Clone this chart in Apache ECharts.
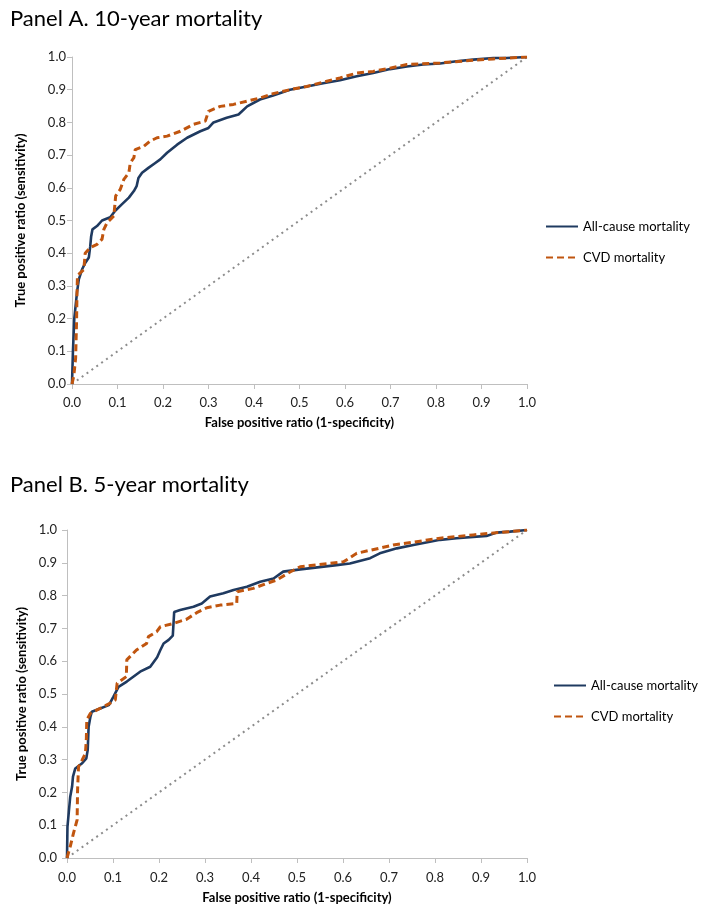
<!DOCTYPE html>
<html>
<head>
<meta charset="utf-8">
<script src="https://cdn.jsdelivr.net/npm/echarts@6/dist/echarts.min.js"></script>
<style>html,body{margin:0;padding:0;background:#fff}#c{width:704px;height:913px}</style>
</head>
<body>
<div id="c"></div>
<script>
// ---- data ----
const tickLabels = ['0.0','0.1','0.2','0.3','0.4','0.5','0.6','0.7','0.8','0.9','1.0'];
const seriesNames = ['All-cause mortality', 'CVD mortality'];

// Panel A (10-year)
const A_all_x = [0,0.002,0.005,0.011,0.015,0.022,0.029,0.037,0.040,0.042,0.045,0.055,0.066,0.084,0.095,0.110,0.125,0.136,0.142,0.146,0.154,0.168,0.183,0.194,0.209,0.231,0.253,0.282,0.300,0.311,0.340,0.366,0.385,0.413,0.442,0.479,0.516,0.552,0.589,0.626,0.662,0.699,0.736,0.772,0.809,0.845,0.882,0.926,0.955,1.0];
const A_all_y = [0,0.097,0.20,0.28,0.32,0.35,0.37,0.387,0.42,0.45,0.473,0.483,0.50,0.51,0.53,0.55,0.57,0.59,0.605,0.63,0.646,0.661,0.676,0.687,0.707,0.732,0.753,0.773,0.783,0.80,0.814,0.824,0.849,0.87,0.882,0.90,0.91,0.92,0.929,0.941,0.951,0.963,0.971,0.977,0.98,0.987,0.992,0.997,0.997,1.0];
const A_cvd_x = [0,0.004,0.008,0.010,0.011,0.012,0.018,0.026,0.029,0.040,0.055,0.066,0.070,0.077,0.092,0.096,0.106,0.114,0.125,0.128,0.136,0.139,0.158,0.172,0.187,0.209,0.238,0.267,0.293,0.300,0.326,0.355,0.385,0.414,0.442,0.479,0.516,0.560,0.589,0.626,0.662,0.699,0.736,0.809,0.882,0.926,0.962,1.0];
const A_cvd_y = [0,0.025,0.08,0.19,0.28,0.33,0.34,0.35,0.40,0.417,0.427,0.443,0.473,0.493,0.514,0.575,0.595,0.626,0.646,0.676,0.692,0.717,0.727,0.743,0.753,0.758,0.773,0.794,0.804,0.834,0.849,0.855,0.865,0.875,0.888,0.90,0.91,0.926,0.936,0.951,0.956,0.966,0.977,0.982,0.99,0.994,0.997,1.0];

// Panel B (5-year)
const B_all_x = [0,0.001,0.004,0.007,0.011,0.013,0.018,0.033,0.042,0.045,0.047,0.051,0.054,0.072,0.091,0.101,0.112,0.130,0.159,0.181,0.196,0.203,0.210,0.221,0.230,0.233,0.237,0.246,0.275,0.293,0.311,0.340,0.362,0.391,0.420,0.449,0.470,0.507,0.586,0.615,0.659,0.680,0.717,0.753,0.811,0.847,0.912,0.934,0.963,1.0];
const B_all_y = [0,0.095,0.141,0.187,0.217,0.248,0.273,0.289,0.304,0.329,0.40,0.431,0.446,0.456,0.466,0.492,0.522,0.538,0.568,0.583,0.612,0.634,0.654,0.665,0.678,0.75,0.752,0.756,0.766,0.776,0.797,0.807,0.817,0.827,0.842,0.852,0.873,0.88,0.893,0.898,0.914,0.929,0.944,0.954,0.97,0.975,0.982,0.992,0.995,1.0];
const B_cvd_x = [0,0.007,0.014,0.022,0.023,0.025,0.033,0.040,0.042,0.043,0.051,0.072,0.094,0.105,0.109,0.129,0.130,0.151,0.173,0.177,0.195,0.203,0.231,0.260,0.282,0.304,0.333,0.369,0.370,0.405,0.434,0.455,0.485,0.507,0.601,0.630,0.709,0.811,0.883,0.920,0.963,1.0];
const B_cvd_y = [0,0.035,0.075,0.116,0.207,0.278,0.299,0.319,0.36,0.421,0.441,0.456,0.472,0.482,0.533,0.553,0.604,0.634,0.654,0.675,0.69,0.705,0.715,0.728,0.748,0.763,0.771,0.776,0.812,0.822,0.837,0.847,0.872,0.888,0.903,0.929,0.954,0.975,0.985,0.99,0.995,1.0];

// reference line (chance)
const diag_x = [0, 1];
const diag_y = [0, 1];

// ---- styling ----
const FONT = 'Lato';
const BLUE = '#1F3A60';
const ORANGE = '#C0550F';
const GREY = '#8C8C8C';
const zip = (xs, ys) => xs.map((x, i) => [x, ys[i]]);

function mkX(idx, nameGap, labelMargin) {
  return {
    type: 'value', gridIndex: idx, min: 0, max: 1, interval: 0.1,
    name: 'False positive ratio (1-specificity)', nameLocation: 'middle', nameGap: nameGap,
    nameTextStyle: { fontFamily: FONT, fontWeight: 'bold', fontSize: 13, color: '#000' },
    axisLine: { lineStyle: { color: '#BFBFBF', width: 1 } },
    axisTick: { show: true, length: 5, lineStyle: { color: '#BFBFBF' } },
    axisLabel: { fontFamily: FONT, fontSize: 13, color: '#222', margin: labelMargin,
      formatter: v => tickLabels[Math.round(v * 10)] },
    splitLine: { show: false }
  };
}
function mkY(idx, nameGap, labelMargin) {
  return {
    type: 'value', gridIndex: idx, min: 0, max: 1, interval: 0.1,
    name: 'True positive ratio (sensitivity)', nameLocation: 'middle', nameGap: nameGap,
    nameTextStyle: { fontFamily: FONT, fontWeight: 'bold', fontSize: 13, color: '#000' },
    axisLine: { show: true, lineStyle: { color: '#BFBFBF', width: 1 } },
    axisTick: { show: true, length: 5, lineStyle: { color: '#BFBFBF' } },
    axisLabel: { fontFamily: FONT, fontSize: 13, color: '#222', margin: labelMargin,
      formatter: v => tickLabels[Math.round(v * 10)] },
    splitLine: { show: false }
  };
}
function lineSeries(name, idx, xs, ys, kind) {
  const ls = kind === 'all' ? { color: BLUE, width: 2.6, type: 'solid' }
          : kind === 'cvd' ? { color: ORANGE, width: 3, type: [7, 4] }
          : { color: GREY, width: 2, type: [2, 4] };
  return {
    name: name, type: 'line', xAxisIndex: idx, yAxisIndex: idx,
    data: zip(xs, ys), symbol: 'none', showSymbol: false, animation: false,
    lineStyle: ls, itemStyle: { color: ls.color }, z: kind === 'all' ? 3 : kind === 'cvd' ? 4 : 2,
    silent: true
  };
}
const legendCommon = {
  orient: 'vertical', itemWidth: 32, itemHeight: 14, itemGap: 18,
  data: seriesNames, selectedMode: false,
  itemStyle: { opacity: 0, borderWidth: 0 },
  textStyle: { fontFamily: FONT, fontSize: 13, color: '#000' }
};

const chart = echarts.init(document.getElementById('c'));
chart.setOption({
  animation: false,
  title: [
    { text: 'Panel A. 10-year mortality', left: 5, top: 3,
      textStyle: { fontFamily: FONT, fontSize: 22, fontWeight: 'normal', color: '#000' } },
    { text: 'Panel B. 5-year mortality', left: 5, top: 469,
      textStyle: { fontFamily: FONT, fontSize: 22, fontWeight: 'normal', color: '#000' } }
  ],
  legend: [
    Object.assign({}, legendCommon, { left: 540, top: 215 }),
    Object.assign({}, legendCommon, { left: 548, top: 674 })
  ],
  grid: [
    { left: 72, top: 57, width: 455, height: 327 },
    { left: 67, top: 530, width: 460, height: 328 }
  ],
  xAxis: [mkX(0, 32, 12), mkX(1, 33, 13)],
  yAxis: [mkY(0, 45, 6), mkY(1, 35, 10)],
  series: [
    lineSeries('diagA', 0, diag_x, diag_y, 'diag'),
    lineSeries(seriesNames[0], 0, A_all_x, A_all_y, 'all'),
    lineSeries(seriesNames[1], 0, A_cvd_x, A_cvd_y, 'cvd'),
    lineSeries('diagB', 1, diag_x, diag_y, 'diag'),
    lineSeries(seriesNames[0], 1, B_all_x, B_all_y, 'all'),
    lineSeries(seriesNames[1], 1, B_cvd_x, B_cvd_y, 'cvd')
  ]
});
</script>
</body>
</html>
